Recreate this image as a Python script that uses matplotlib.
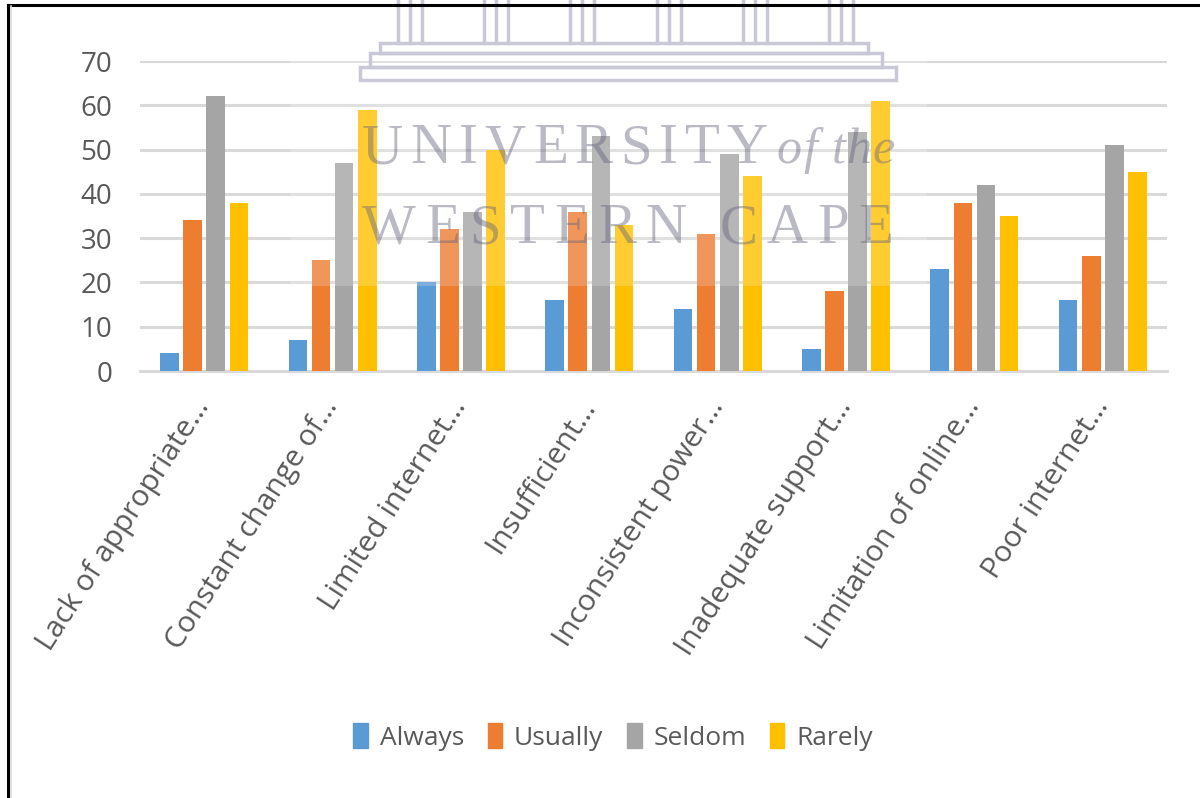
import matplotlib
matplotlib.use("Agg")
import matplotlib.pyplot as plt
from matplotlib.patches import Rectangle
from matplotlib.lines import Line2D
from matplotlib.font_manager import FontProperties
import numpy as np

categories = [
    "Lack of appropriate…",
    "Constant change of…",
    "Limited internet…",
    "Insufficient…",
    "Inconsistent power…",
    "Inadequate support…",
    "Limitation of online…",
    "Poor internet…",
]
always = [4, 7, 20, 16, 14, 5, 23, 16]
usually = [34, 25, 32, 36, 31, 18, 38, 26]
seldom = [62, 47, 36, 53, 49, 54, 42, 51]
rarely = [38, 59, 50, 33, 44, 61, 35, 45]
series_names = ["Always", "Usually", "Seldom", "Rarely"]
series_colors = ["#5B9BD5", "#ED7D31", "#A5A5A5", "#FFC000"]
y_ticks = [0, 10, 20, 30, 40, 50, 60, 70]

plt.rcParams["font.family"] = ["Open Sans", "DejaVu Sans"]
W, H = 1200, 798
fig = plt.figure(figsize=(W / 100, H / 100), dpi=100)
fig.patch.set_facecolor("white")

def fx(px):
    return px / W

def fy(py):
    return 1 - py / H

ax = fig.add_axes([fx(140), fy(371), fx(1167) - fx(140), fy(61) - fy(371)])
x = np.arange(len(categories))
slot = 0.18
width = 0.145
for j, (vals, name, col) in enumerate(zip([always, usually, seldom, rarely], series_names, series_colors)):
    ax.bar(x + (j - 1.5) * slot, vals, width=width, color=col, label=name, zorder=3)

ax.set_xlim(-0.5, len(categories) - 0.5)
ax.set_ylim(0, 70)
ax.set_yticks(y_ticks)
ax.set_yticklabels([str(t) for t in y_ticks], fontsize=20, color="#595959")
ax.yaxis.grid(True, color="#D9D9D9", linewidth=2.2, zorder=0)
ax.set_axisbelow(True)
for s in ["top", "right", "left"]:
    ax.spines[s].set_visible(False)
ax.spines["bottom"].set_color("#D9D9D9")
ax.spines["bottom"].set_linewidth(2.2)
ax.tick_params(axis="both", length=0)
ax.tick_params(axis="y", pad=20)
ax.set_xticks(x)
ax.set_xticklabels(categories, rotation=57, ha="right", va="center",
                   rotation_mode="anchor", fontsize=21.5, color="#595959")
ax.tick_params(axis="x", pad=22)

handles = [Rectangle((0, 0), 1, 1, color=c) for c in series_colors]
fig.legend(handles, series_names, loc="center", bbox_to_anchor=(fx(613), fy(737)),
           ncol=4, frameon=False, fontsize=19, handlelength=0.55, handleheight=1.05,
           handletextpad=0.45, columnspacing=0.9, labelcolor="#595959")

# Watermark: faint overlay, building outline and university name
fig.patches.append(Rectangle((fx(290), fy(286)), fx(927) - fx(290), fy(0) - fy(286),
                             transform=fig.transFigure, facecolor="white", alpha=0.2,
                             edgecolor="none", zorder=5))
wm = "#c8c8d6"
for cx in [410, 496, 582, 669, 755, 841]:
    for dx in (-12, 0, 12):
        fig.add_artist(Line2D([fx(cx + dx)] * 2, [fy(0), fy(43)], color=wm, lw=2.5, zorder=6))
for (x0, x1, y0, y1) in [(380, 868, 43, 53), (370, 882, 53, 67), (360, 896, 67, 80)]:
    fig.patches.append(Rectangle((fx(x0), fy(y1)), fx(x1) - fx(x0), fy(y0) - fy(y1),
                                 transform=fig.transFigure, facecolor="none",
                                 edgecolor=wm, lw=2.5, zorder=6))

renderer = fig.canvas.get_renderer()

def tracked_text(s, x0, x1, baseline, size, style="normal"):
    """Place the letters of s one by one so that they fill x0..x1 (pixels)."""
    fp = FontProperties(family="Liberation Serif", size=size, style=style)
    widths = [renderer.get_text_width_height_descent(c, fp, ismath=False)[0] for c in s]
    extra = (x1 - x0 - sum(widths)) / max(len(s) - 1, 1)
    pos = x0
    for c, w in zip(s, widths):
        fig.text(fx(pos), fy(baseline), c, fontproperties=fp, color="#66667f",
                 alpha=0.45, ha="left", va="baseline", zorder=7)
        pos += w + extra

tracked_text("UNIVERSITY", 362, 768, 163, 41)
tracked_text("of the", 777, 895, 163, 36, style="italic")
tracked_text("WESTERN CAPE", 362, 893, 243, 41)

# Frame lines along top and left edge
fig.add_artist(Line2D([fx(8), 1], [fy(5), fy(5)], color="black", lw=2.2, zorder=8))
fig.add_artist(Line2D([fx(8), fx(8)], [fy(5), 0], color="black", lw=2.2, zorder=8))
fig.add_artist(Line2D([fx(11), fx(11)], [fy(6), 0], color="#d9d9d9", lw=1.2, zorder=8))

fig.savefig("out.png", dpi=100)
